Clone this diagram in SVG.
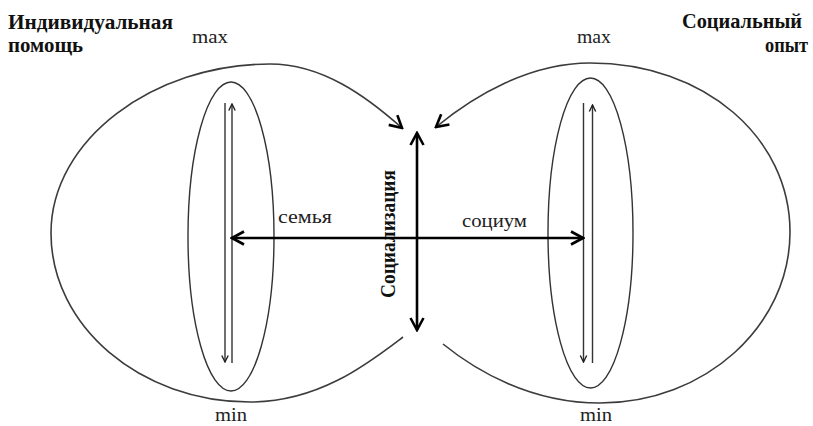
<svg xmlns="http://www.w3.org/2000/svg" width="813" height="426" viewBox="0 0 813 426">
  <style>
    .title { font-family: "Liberation Serif", "DejaVu Serif", serif; font-weight: bold; font-size: 20px; fill: #111; }
    .lbl { font-family: "Liberation Serif", "DejaVu Serif", serif; font-size: 19px; fill: #222; }
    .outline { fill: none; stroke: #3c3c3c; stroke-width: 1.6; }
    .inner { fill: none; stroke: #333; stroke-width: 1.4; }
    .thick { fill: none; stroke: #000; stroke-width: 2.6; }
  </style>
  <defs>
    <marker id="vBig" markerUnits="userSpaceOnUse" viewBox="-15 -9 17 18" refX="0" refY="0" markerWidth="17" markerHeight="18" orient="auto">
      <path d="M-12,-6.5 L0,0 L-12,6.5" fill="none" stroke="#000" stroke-width="2.6" stroke-linejoin="miter"/>
    </marker>
    <marker id="vThick" markerUnits="userSpaceOnUse" viewBox="-15 -9 17 18" refX="0" refY="0" markerWidth="17" markerHeight="18" orient="auto-start-reverse">
      <path d="M-12,-6.5 L0,0 L-12,6.5" fill="none" stroke="#000" stroke-width="2.6" stroke-linejoin="miter"/>
    </marker>
    <marker id="vThin" markerUnits="userSpaceOnUse" viewBox="-9 -5 10 10" refX="0" refY="0" markerWidth="10" markerHeight="10" orient="auto">
      <path d="M-6.5,-3.2 L0,0 L-6.5,3.2" fill="none" stroke="#222" stroke-width="1.4"/>
    </marker>
  </defs>
  <rect width="813" height="426" fill="#fff"/>

  <g id="title-left">
    <text class="title" x="8" y="29" textLength="165" lengthAdjust="spacingAndGlyphs">Индивидуальная</text>
    <text class="title" x="8" y="52" textLength="75" lengthAdjust="spacingAndGlyphs">помощь</text>
  </g>
  <g id="title-right">
    <text class="title" x="682" y="28" textLength="120" lengthAdjust="spacingAndGlyphs">Социальный</text>
    <text class="title" x="765" y="52" textLength="43" lengthAdjust="spacingAndGlyphs">опыт</text>
  </g>

  <g id="left-sphere">
    <ellipse class="inner" cx="231" cy="236.5" rx="43" ry="154.5"/>
    <text class="lbl" x="192" y="43" textLength="36" lengthAdjust="spacingAndGlyphs">max</text>
    <text class="lbl" x="215" y="421" textLength="32" lengthAdjust="spacingAndGlyphs">min</text>
    <text class="lbl" x="278" y="223" textLength="54" lengthAdjust="spacingAndGlyphs">семья</text>
  </g>

  <g id="right-sphere">
    <ellipse class="inner" cx="590.5" cy="233" rx="42.5" ry="155"/>
    <text class="lbl" x="577" y="43" textLength="34" lengthAdjust="spacingAndGlyphs">max</text>
    <text class="lbl" x="580" y="421" textLength="32" lengthAdjust="spacingAndGlyphs">min</text>
    <text class="lbl" x="462" y="227" textLength="65" lengthAdjust="spacingAndGlyphs">социум</text>
  </g>

  <g id="center">
    <text class="title" x="0" y="0" transform="translate(395,234) rotate(-90)" text-anchor="middle" font-size="19" textLength="128" lengthAdjust="spacingAndGlyphs">Социализация</text>
  </g>

  <g id="connectors">
    <path class="outline" d="M403,337 C370,362 320,402 250,402 C140,402 51,326 51,233 C51,140 153,64 270,64 C322,64 366,96 402,128" marker-end="url(#vBig)"/>
    <path class="outline" d="M443,344 C475,370 530,403 600,403 C705,403 790,326 790,232 C790,138 705,63 590,63 C530,63 475,95 436,127" marker-end="url(#vBig)"/>
    <path class="inner" d="M225,103 L225,362" marker-end="url(#vThin)"/>
    <path class="inner" d="M232,363 L232,104" marker-end="url(#vThin)"/>
    <path class="inner" d="M583.5,103 L583.5,362" marker-end="url(#vThin)"/>
    <path class="inner" d="M592.5,363 L592.5,105" marker-end="url(#vThin)"/>
    <path class="thick" d="M232,238 L583,238" marker-start="url(#vThick)" marker-end="url(#vThick)"/>
    <path class="thick" d="M417,133 L417,330" marker-start="url(#vThick)" marker-end="url(#vThick)"/>
  </g>
</svg>
